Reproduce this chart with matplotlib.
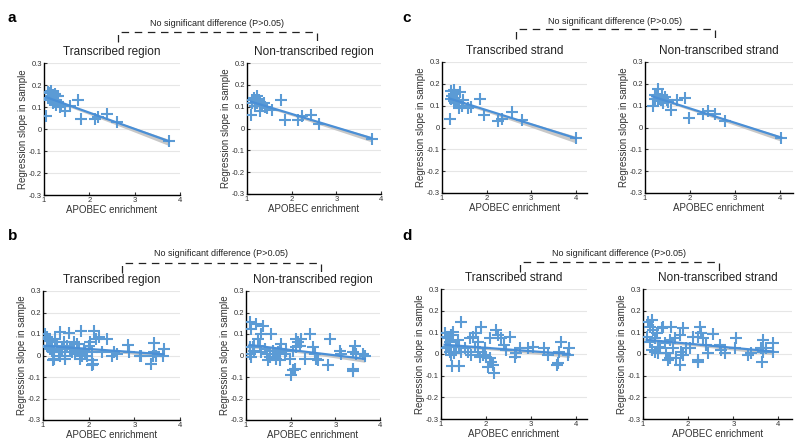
import numpy as np
import matplotlib.pyplot as plt
from matplotlib.lines import Line2D

plt.rcParams['font.family'] = ['Liberation Sans', 'DejaVu Sans']

# panel a, transcribed region
a_tx_x = [1.05, 1.13, 1.16, 1.09, 1.13, 1.20, 1.24, 1.27, 1.31, 1.27, 1.35, 1.31, 1.20, 1.38,
          1.46, 1.57, 1.75, 1.81, 2.12, 2.20, 2.39, 2.61, 3.76, 1.16, 1.24, 1.09]
a_tx_y = [0.060, 0.165, 0.175, 0.140, 0.130, 0.155, 0.130, 0.150, 0.125, 0.110, 0.100, 0.150, 0.118, 0.110,
          0.080, 0.105, 0.133, 0.045, 0.045, 0.054, 0.068, 0.030, -0.054, 0.148, 0.160, 0.170]
# panel a, non-transcribed region
a_nt_x = [1.09, 1.11, 1.15, 1.19, 1.22, 1.19, 1.26, 1.30, 1.34, 1.30, 1.41, 1.45, 1.56,
          1.76, 1.86, 2.14, 2.23, 2.44, 2.62, 3.79, 1.22, 1.11, 1.37]
a_nt_y = [0.060, 0.130, 0.140, 0.130, 0.117, 0.105, 0.130, 0.120, 0.110, 0.080, 0.100, 0.094, 0.086,
          0.132, 0.037, 0.040, 0.056, 0.060, 0.022, -0.048, 0.147, 0.117, 0.117]
# panel c, transcribed strand
c_tx_x = [1.17, 1.20, 1.26, 1.28, 1.20, 1.26, 1.29, 1.33, 1.40, 1.37, 1.47, 1.39, 1.44, 1.59,
          1.66, 1.86, 1.95, 2.26, 2.35, 2.56, 2.79, 4.00, 1.22, 1.28]
c_tx_y = [0.040, 0.165, 0.172, 0.155, 0.130, 0.120, 0.110, 0.127, 0.163, 0.114, 0.127, 0.088, 0.099, 0.088,
          0.096, 0.130, 0.055, 0.030, 0.040, 0.072, 0.035, -0.050, 0.142, 0.134]
# panel c, non-transcribed strand
c_nt_x = [1.17, 1.22, 1.28, 1.26, 1.33, 1.37, 1.40, 1.44, 1.48, 1.51, 1.29, 1.59, 1.72,
          1.90, 1.99, 2.29, 2.40, 2.57, 2.79, 4.04, 1.22, 1.35]
c_nt_y = [0.097, 0.147, 0.178, 0.143, 0.132, 0.147, 0.112, 0.140, 0.124, 0.117, 0.124, 0.079, 0.127,
          0.135, 0.044, 0.060, 0.074, 0.063, 0.028, -0.050, 0.132, 0.124]
# panel b, transcribed region
b_tx_x = [1.04, 1.08, 1.12, 1.15, 1.19, 1.08, 1.12, 1.15, 1.19, 1.23, 1.24, 1.21, 1.38, 1.56,
          1.83, 2.11, 2.15, 2.22, 2.40, 2.04, 2.07, 2.07, 2.07, 1.45, 1.41, 1.49, 1.49, 1.67,
          1.74, 1.63, 1.71, 1.78, 1.85, 1.93, 1.96, 1.34, 1.30, 1.26, 2.29, 2.51, 2.55, 2.62,
          2.86, 2.88, 3.13, 3.15, 3.43, 3.43, 3.40, 3.37, 3.47, 3.64, 3.62, 1.60, 1.52, 1.38,
          1.82, 1.89, 2.00, 2.10]
b_tx_y = [0.100, 0.085, 0.077, 0.069, 0.062, 0.046, 0.038, 0.031, 0.023, 0.015, -0.015, -0.023, 0.110, 0.105,
          0.115, 0.115, 0.077, 0.085, 0.077, 0.062, 0.015, -0.023, -0.046, 0.062, 0.031, 0.000, -0.015, 0.062,
          0.054, 0.015, 0.008, 0.023, 0.000, 0.015, 0.000, 0.015, 0.046, 0.077, 0.015, 0.000, 0.015, 0.008,
          0.049, 0.015, 0.000, 0.000, 0.058, 0.015, 0.000, -0.038, 0.000, 0.031, 0.000, 0.031, 0.046, 0.000,
          -0.015, 0.031, 0.046, -0.040]
# panel b, non-transcribed region
b_nt_x = [1.08, 1.23, 1.12, 1.38, 1.34, 1.57, 1.27, 1.16, 1.19, 1.08, 1.12, 1.31, 1.42, 1.46,
          1.49, 1.53, 1.64, 1.68, 1.75, 1.79, 1.75, 1.87, 1.98, 2.05, 2.13, 2.16, 2.20, 2.24,
          2.13, 2.43, 2.01, 2.05, 2.09, 2.50, 2.54, 2.57, 2.61, 2.31, 2.84, 2.89, 3.10, 3.13,
          3.43, 3.40, 3.46, 3.40, 3.40, 3.62, 3.66, 1.19, 1.34, 1.60, 1.72, 1.90, 1.08]
b_nt_y = [0.154, 0.146, 0.123, 0.138, 0.100, 0.100, 0.077, 0.038, 0.023, 0.008, -0.008, 0.046, 0.031, 0.008,
          -0.023, -0.008, 0.008, -0.015, -0.023, 0.054, 0.031, 0.008, -0.015, 0.023, 0.077, 0.062, 0.046, 0.077,
          0.038, 0.100, -0.092, -0.069, -0.062, 0.038, 0.008, -0.015, -0.023, -0.015, -0.046, 0.077, 0.023, 0.008,
          0.046, 0.015, 0.008, -0.062, -0.072, 0.008, 0.000, 0.046, 0.015, 0.023, 0.015, 0.023, 0.038]
# panel d, transcribed strand
d_tx_x = [1.08, 1.12, 1.16, 1.45, 1.23, 1.27, 1.19, 1.16, 1.19, 1.23, 1.30, 1.34, 1.38, 1.41,
          1.45, 1.24, 1.41, 1.64, 1.71, 1.79, 1.90, 1.82, 1.75, 1.82, 1.86, 1.93, 2.01, 2.08,
          2.12, 2.04, 2.16, 2.19, 2.08, 2.23, 2.27, 2.34, 2.41, 2.53, 2.64, 2.67, 2.75, 2.93,
          3.04, 3.30, 3.38, 3.67, 3.63, 3.60, 3.59, 3.86, 3.82, 1.53, 1.60, 1.67, 1.97, 2.45, 1.12]
d_tx_y = [0.095, 0.080, 0.072, 0.146, 0.088, 0.103, 0.057, 0.034, 0.011, -0.005, 0.003, 0.034, 0.065, 0.034,
          0.011, -0.054, -0.054, 0.072, 0.080, 0.095, 0.126, 0.057, 0.034, 0.011, -0.012, -0.005, -0.012, -0.020,
          -0.035, -0.058, -0.051, -0.089, 0.072, 0.111, 0.088, 0.072, 0.042, 0.080, -0.012, 0.003, 0.026, 0.026,
          0.034, 0.026, -0.005, 0.057, 0.011, -0.043, -0.051, 0.026, -0.005, 0.026, 0.011, -0.005, 0.026, 0.019, 0.026]
# panel d, non-transcribed strand
d_nt_x = [1.19, 1.12, 1.15, 1.23, 1.08, 1.26, 1.41, 1.45, 1.63, 1.89, 2.26, 2.29, 2.33, 2.22,
          2.10, 1.82, 1.71, 1.60, 1.49, 1.34, 1.19, 1.26, 1.34, 1.38, 1.52, 1.60, 1.56, 1.74,
          1.82, 1.85, 1.96, 2.04, 2.22, 2.22, 2.44, 2.55, 2.70, 2.73, 2.81, 3.07, 3.03, 3.32,
          3.40, 3.65, 3.62, 3.65, 3.64, 3.73, 3.88, 3.88, 1.67, 1.89, 2.40, 1.15, 1.30]
d_nt_y = [0.157, 0.146, 0.123, 0.112, 0.080, 0.072, 0.118, 0.126, 0.126, 0.122, 0.126, 0.095, 0.072, 0.080,
          0.080, 0.088, 0.072, 0.065, 0.049, 0.034, 0.018, 0.011, 0.003, 0.026, 0.003, -0.020, -0.028, -0.020,
          -0.051, 0.011, 0.026, 0.026, -0.028, -0.035, 0.003, 0.091, 0.042, 0.018, 0.003, 0.072, 0.026, -0.005,
          0.003, 0.065, 0.026, 0.011, -0.038, 0.026, 0.049, 0.011, 0.026, -0.005, 0.042, 0.057, 0.095]

titles = ['Transcribed region', 'Non-transcribed region', 'Transcribed strand', 'Non-transcribed strand']
y_ticks = [-0.3, -0.2, -0.1, 0, 0.1, 0.2, 0.3]
y_labels = ['-0.3', '-0.2', '-0.1', '0', '0.1', '0.2', '0.3']
x_ticks = [1, 2, 3, 4]

W, H = 800, 445
fig = plt.figure(figsize=(8, 4.45), dpi=100)

def px(l, t, r, b):
    return [l / W, 1 - b / H, (r - l) / W, (b - t) / H]

panels = [
    (a_tx_x, a_tx_y, titles[0], px(44, 63, 180, 195), 4.0),
    (a_nt_x, a_nt_y, titles[1], px(247, 63, 381, 194), 4.0),
    (c_tx_x, c_tx_y, titles[2], px(442, 62, 587, 193), 4.25),
    (c_nt_x, c_nt_y, titles[3], px(645, 62, 793, 193), 4.3),
    (b_tx_x, b_tx_y, titles[0], px(43, 291, 180, 420), 4.0),
    (b_nt_x, b_nt_y, titles[1], px(246, 291, 380, 420), 4.0),
    (d_tx_x, d_tx_y, titles[2], px(441, 289, 587, 419), 4.25),
    (d_nt_x, d_nt_y, titles[3], px(643, 289, 792, 419), 4.3),
]

blue = '#5b9bd5'
for xs, ys, title, rect, xmax in panels:
    ax = fig.add_axes(rect)
    xs = np.array(xs)
    ys = np.array(ys)
    # linear fit with a narrow confidence band
    k, b0 = np.polyfit(xs, ys, 1)
    xf = np.linspace(xs.min(), xs.max(), 50)
    yf = k * xf + b0
    res = ys - (k * xs + b0)
    s = np.sqrt(np.sum(res**2) / (len(xs) - 2))
    se = s * np.sqrt(1 / len(xs) + (xf - xs.mean())**2 / np.sum((xs - xs.mean())**2))
    ax.fill_between(xf, yf - 0.8 * se - 0.003, yf + 0.4 * se, color='#c8c8c8', lw=0, zorder=2)
    ax.plot(xs, ys, '+', color=blue, ms=8.5, mew=1.5, zorder=3)
    ax.plot(xf, yf, color='#4a8fd6', lw=1.6, zorder=4)
    ax.set_xlim(1, xmax)
    ax.set_ylim(-0.3, 0.3)
    ax.set_xticks(x_ticks)
    ax.set_yticks(y_ticks)
    ax.set_yticklabels(y_labels)
    ax.yaxis.grid(True, color='#e6e6e6', lw=0.8)
    ax.set_axisbelow(True)
    for sp in ['top', 'right']:
        ax.spines[sp].set_visible(False)
    for sp in ['left', 'bottom']:
        ax.spines[sp].set_linewidth(1.0)
    ax.tick_params(direction='in', length=2, width=0.8, labelsize=5.5, colors='#333333', pad=1.5)
    ax.set_title(title, fontsize=8.5, color='#222222', pad=6)
    ax.set_xlabel('APOBEC enrichment', fontsize=7, color='#333333', labelpad=1)
    ax.set_ylabel('Regression slope in sample', fontsize=7, color='#333333', labelpad=1)

# panel letters
for lab, x, y in [('a', 8, 18), ('b', 8, 236), ('c', 402, 18), ('d', 402, 236)]:
    fig.text(x / W, 1 - y / H, lab, fontsize=11, fontweight='bold', va='center', ha='left')

# dashed brackets with text
brackets = [(118, 317, 32, 42, 23), (122, 321, 263, 273, 254),
            (516, 715, 29, 39, 21), (520, 719, 262, 272, 253)]
for l, r, top, bot, ty in brackets:
    xsb = [l / W, l / W, r / W, r / W]
    ysb = [1 - bot / H, 1 - top / H, 1 - top / H, 1 - bot / H]
    fig.add_artist(Line2D(xsb, ysb, transform=fig.transFigure, color='#222222', lw=0.9,
                          dashes=(6, 4.5)))
    fig.text((l + r) / 2 / W, 1 - ty / H, 'No significant difference (P>0.05)',
             fontsize=6.5, ha='center', va='center', color='#222222')

fig.savefig('out.png', dpi=100)
